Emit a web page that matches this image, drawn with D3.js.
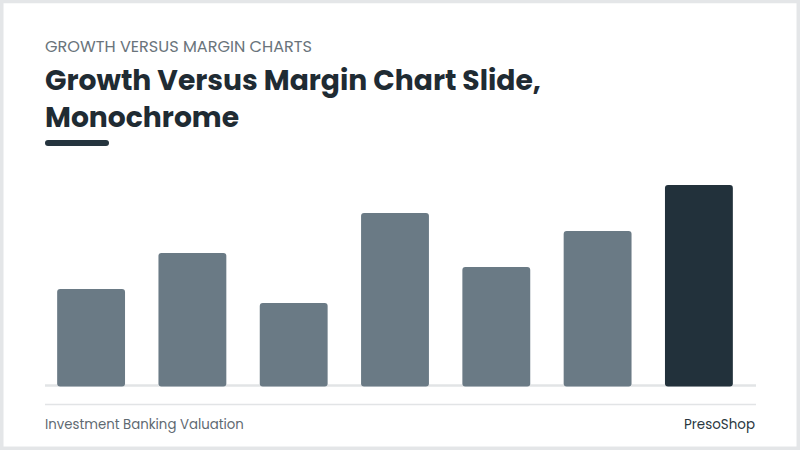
<!DOCTYPE html>
<html>
<head>
<meta charset="utf-8">
<script src="https://cdn.jsdelivr.net/npm/d3@7"></script>
<style>
  html, body { margin: 0; padding: 0; background: #fff; }
  svg { display: block; }
</style>
</head>
<body>
<div id="chart"></div>
<script>
const W = 800;
const H = 450;

// data (relative units, tallest = 100)
const categories = ['A', 'B', 'C', 'D', 'E', 'F', 'G'];
const values = [48, 66, 41, 86, 59, 77, 100];
const highlighted = ['G'];

const kicker = 'GROWTH VERSUS MARGIN CHARTS';
const titleLines = ['Growth Versus Margin Chart Slide,', 'Monochrome'];
const footerLeft = 'Investment Banking Valuation';
const footerRight = 'PresoShop';

const font = 'Poppins, Inter, "Noto Sans", sans-serif';

const plot = { left: 45, right: 756, top: 185, bottom: 385 };

const svg = d3.select('#chart')
  .append('svg')
  .attr('width', W)
  .attr('height', H)
  .style('font-family', font);

// slide frame
svg.append('rect')
  .attr('x', 1.75).attr('y', 1.5)
  .attr('width', W - 3.5).attr('height', H - 3.25)
  .attr('fill', '#fff')
  .attr('stroke', '#e4e6e8')
  .attr('stroke-width', 3.5);

// shrink/grow a text so it spans the target width
function fitWidth(sel, target) {
  const node = sel.node();
  const size = parseFloat(sel.attr('font-size'));
  const w = node.getComputedTextLength();
  sel.attr('font-size', size * target / w);
}

svg.append('text')
  .attr('x', 45).attr('y', 52)
  .attr('font-size', 16)
  .attr('fill', '#6a747b')
  .text(kicker)
  .call(fitWidth, 267);

const tl = svg.append('g');
tl.selectAll('text')
  .data(titleLines)
  .join('text')
  .attr('x', 45)
  .attr('y', (d, i) => 90 + i * 37)
  .attr('font-size', 28)
  .attr('font-weight', 700)
  .attr('fill', '#1f2b33')
  .text(d => d);
tl.select('text').call(fitWidth, 496);
tl.selectAll('text').attr('font-size', tl.select('text').attr('font-size'));

svg.append('rect')
  .attr('x', 45).attr('y', 140)
  .attr('width', 64).attr('height', 6)
  .attr('rx', 3)
  .attr('fill', '#25343e');

// bars
const x = d3.scaleBand()
  .domain(categories)
  .range([45, 745])
  .paddingInner(0.33)
  .paddingOuter(0.12);

const y = d3.scaleLinear()
  .domain([0, d3.max(values)])
  .range([plot.bottom, plot.top]);

svg.append('line')
  .attr('x1', plot.left).attr('x2', plot.right)
  .attr('y1', plot.bottom + 0.5).attr('y2', plot.bottom + 0.5)
  .attr('stroke', '#e2e4e6')
  .attr('stroke-width', 2.5);

svg.append('g')
  .selectAll('rect')
  .data(categories.map((c, i) => ({ c, v: values[i] })))
  .join('rect')
  .attr('x', d => x(d.c))
  .attr('width', x.bandwidth())
  .attr('y', d => y(d.v))
  .attr('height', d => y(0) - y(d.v) + 1.5)
  .attr('rx', 3)
  .attr('fill', d => highlighted.includes(d.c) ? '#22313b' : '#6a7a85');

// footer
svg.append('line')
  .attr('x1', 45).attr('x2', 756)
  .attr('y1', 404.5).attr('y2', 404.5)
  .attr('stroke', '#e2e4e6')
  .attr('stroke-width', 1.5);

svg.append('text')
  .attr('x', 45).attr('y', 429)
  .attr('font-size', 13)
  .attr('fill', '#5f6a72')
  .text(footerLeft)
  .call(fitWidth, 199);

svg.append('text')
  .attr('x', 755).attr('y', 429)
  .attr('text-anchor', 'end')
  .attr('font-size', 13)
  .attr('font-weight', 400)
  .attr('fill', '#2a373f')
  .text(footerRight)
  .call(fitWidth, 71);
</script>
</body>
</html>
